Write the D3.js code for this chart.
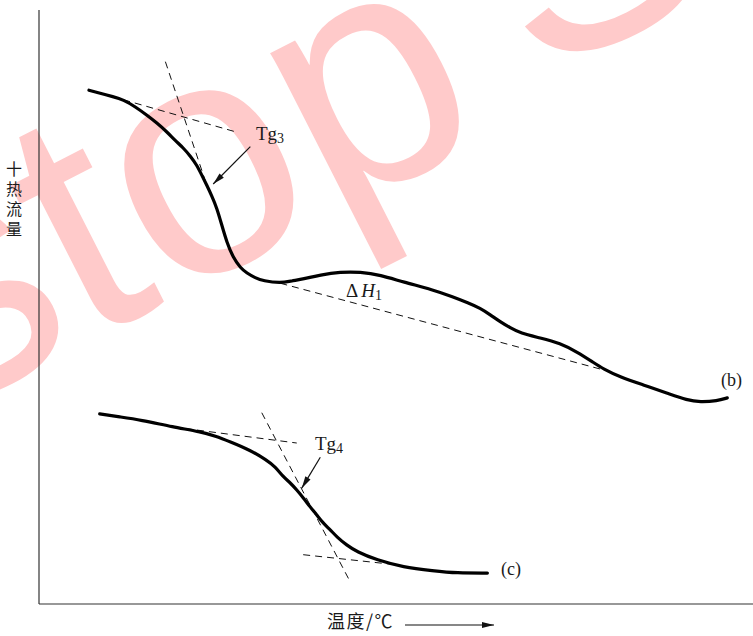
<!DOCTYPE html>
<html>
<head>
<meta charset="utf-8">
<script src="https://cdn.jsdelivr.net/npm/d3@7"></script>
<style>
  html, body { margin: 0; padding: 0; background: #fff; }
  svg { display: block; }
</style>
</head>
<body>
<svg id="chart" width="753" height="636"></svg>
<script>
// DSC heat-flow curves (relative temperature 0–100, relative heat flow 0–100)

// curve (b): glass transition Tg3 followed by the ΔH1 event
const curveB_T = [7.0, 8.5, 10.4, 11.8, 13.5, 15.1, 16.5, 17.9, 19.1, 20.2, 21.2, 22.1, 22.8, 23.5, 24.2, 24.9, 25.6, 26.3, 27.2, 28.2, 29.1, 30.3, 31.4, 33.8, 35.4, 37.0, 39.4, 42.2, 45.0, 47.8, 51.0, 55.2, 58.0, 60.1, 61.8, 63.2, 64.6, 66.0, 67.4, 70.2, 73.0, 75.4, 77.6, 79.0, 81.4, 84.6, 88.0, 90.8, 92.6, 95.0, 96.4];
const curveB_H = [86.5, 86.0, 85.4, 84.9, 83.7, 82.3, 81.0, 79.5, 78.0, 76.8, 75.4, 73.9, 72.2, 70.5, 68.7, 66.7, 63.8, 60.9, 58.3, 56.6, 55.7, 54.9, 54.4, 54.0, 54.4, 54.7, 55.4, 55.9, 55.9, 55.4, 54.2, 52.9, 51.7, 50.7, 49.8, 48.7, 47.5, 46.5, 45.6, 44.8, 43.9, 42.4, 40.7, 39.6, 38.2, 36.9, 35.5, 34.3, 34.0, 34.2, 34.7];

// curve (c): glass transition Tg4
const curveC_T = [8.5, 11.3, 14.2, 18.8, 22.6, 24.7, 26.8, 29.6, 31.9, 33.1, 34.2, 35.2, 36.1, 37.0, 38.0, 38.9, 39.8, 40.8, 41.7, 43.1, 44.5, 47.3, 51.0, 55.2, 58.5, 62.8];
const curveC_H = [32.0, 31.5, 31.0, 29.8, 29.0, 28.3, 27.3, 25.9, 24.2, 23.1, 21.4, 20.4, 19.2, 17.9, 16.3, 15.0, 13.6, 12.5, 11.3, 9.9, 8.8, 7.4, 6.2, 5.6, 5.2, 5.2];

// construction lines: [T1, H1, T2, H2]
const tangentLines = [
  [11.8, 84.9, 27.5, 79.5],   // (b) onset baseline
  [17.7, 91.3, 23.5, 70.5],   // (b) steepest slope
  [33.8, 54.0, 79.7, 39.2],   // (b) ΔH1 baseline
  [18.8, 29.8, 36.1, 27.1],   // (c) onset baseline
  [31.2, 32.2, 43.6, 3.7],    // (c) steepest slope
  [37.0, 8.3, 50.1, 6.6]      // (c) end baseline
];

// pointer arrows for the Tg labels: [T_from, H_from, T_to, H_to]
const pointerArrows = [
  [29.6, 77.0, 24.4, 70.7],   // Tg3
  [39.4, 24.7, 36.8, 19.5]    // Tg4
];

const svg = d3.select("#chart");
const serif = "'Liberation Serif', 'DejaVu Serif', serif";
const cjk = "'Noto Sans CJK SC', sans-serif";

const x = d3.scaleLinear().domain([0, 100]).range([39, 753]);
const y = d3.scaleLinear().domain([0, 100]).range([604, 10]);

// background watermark
const wm = svg.append("text")
  .attr("transform", "translate(-62,418) rotate(-27)")
  .attr("font-family", "'Liberation Sans', Arial, sans-serif")
  .attr("font-size", 330)
  .attr("fill", "#ffcaca");
wm.append("tspan").text("stop");
wm.append("tspan").attr("dx", 62).attr("dy", -28).text("S");

svg.append("defs").append("marker")
  .attr("id", "arrowHead")
  .attr("viewBox", "0 0 12 10")
  .attr("refX", 12).attr("refY", 5)
  .attr("markerWidth", 14).attr("markerHeight", 10)
  .attr("markerUnits", "userSpaceOnUse")
  .attr("orient", "auto")
  .append("path")
  .attr("d", "M0,2 L12,5 L0,8 Z")
  .attr("fill", "#111");

// axes (plain frame lines, no ticks)
const axisG = svg.append("g");
axisG.append("line")
  .attr("x1", x(0)).attr("x2", x(0)).attr("y1", y(100)).attr("y2", y(0))
  .attr("stroke", "#333").attr("stroke-width", 1.2);
axisG.append("line")
  .attr("x1", x(0)).attr("x2", x(100)).attr("y1", y(0)).attr("y2", y(0))
  .attr("stroke", "#333").attr("stroke-width", 1.2);

// construction lines
svg.append("g").selectAll("line")
  .data(tangentLines)
  .join("line")
  .attr("x1", d => x(d[0])).attr("y1", d => y(d[1]))
  .attr("x2", d => x(d[2])).attr("y2", d => y(d[3]))
  .attr("stroke", "#111").attr("stroke-width", 1)
  .attr("stroke-dasharray", "7,5");

// DSC curves
const line = d3.line()
  .x(d => x(d[0])).y(d => y(d[1]))
  .curve(d3.curveBasis);

const curves = [
  d3.zip(curveB_T, curveB_H),
  d3.zip(curveC_T, curveC_H)
];
svg.append("g").selectAll("path")
  .data(curves)
  .join("path")
  .attr("d", line)
  .attr("fill", "none")
  .attr("stroke", "#000")
  .attr("stroke-width", 3.2)
  .attr("stroke-linecap", "round")
  .attr("stroke-linejoin", "round");

// pointer arrows
svg.append("g").selectAll("line")
  .data(pointerArrows)
  .join("line")
  .attr("x1", d => x(d[0])).attr("y1", d => y(d[1]))
  .attr("x2", d => x(d[2])).attr("y2", d => y(d[3]))
  .attr("stroke", "#111").attr("stroke-width", 1.2)
  .attr("marker-end", "url(#arrowHead)");

// annotation labels
function labelWithSub(px, py, main, sub, italicPart) {
  const t = svg.append("text")
    .attr("x", px).attr("y", py)
    .attr("font-family", serif)
    .attr("font-size", 19)
    .attr("fill", "#1a1a1a");
  if (italicPart) {
    t.append("tspan").text("Δ");
    t.append("tspan").attr("dx", 3).attr("font-style", "italic").text(main);
  } else {
    t.append("tspan").text(main);
  }
  t.append("tspan").attr("font-size", 14).attr("dy", 3).text(sub);
  return t;
}
labelWithSub(256, 140, "Tg", "3", false);
labelWithSub(315, 450, "Tg", "4", false);
labelWithSub(346, 297, "H", "1", true);

svg.append("text")
  .attr("x", 721).attr("y", 386)
  .attr("font-family", serif).attr("font-size", 18).attr("fill", "#1a1a1a")
  .text("(b)");
svg.append("text")
  .attr("x", 501).attr("y", 575)
  .attr("font-family", serif).attr("font-size", 18).attr("fill", "#1a1a1a")
  .text("(c)");

// y-axis title, set vertically
svg.append("text")
  .attr("x", 14).attr("y", 161)
  .attr("font-family", cjk)
  .attr("font-size", 16)
  .attr("fill", "#1a1a1a")
  .style("writing-mode", "vertical-rl")
  .style("text-orientation", "upright")
  .style("letter-spacing", "4px")
  .text("十热流量");

// x-axis title with direction arrow
svg.append("text")
  .attr("x", 327).attr("y", 628)
  .attr("font-family", cjk)
  .attr("font-size", 18)
  .attr("fill", "#1a1a1a")
  .style("letter-spacing", "1.5px")
  .text("温度/℃");
svg.append("line")
  .attr("x1", 405).attr("y1", 625).attr("x2", 494).attr("y2", 625)
  .attr("stroke", "#111").attr("stroke-width", 1.2)
  .attr("marker-end", "url(#arrowHead)");
</script>
</body>
</html>
